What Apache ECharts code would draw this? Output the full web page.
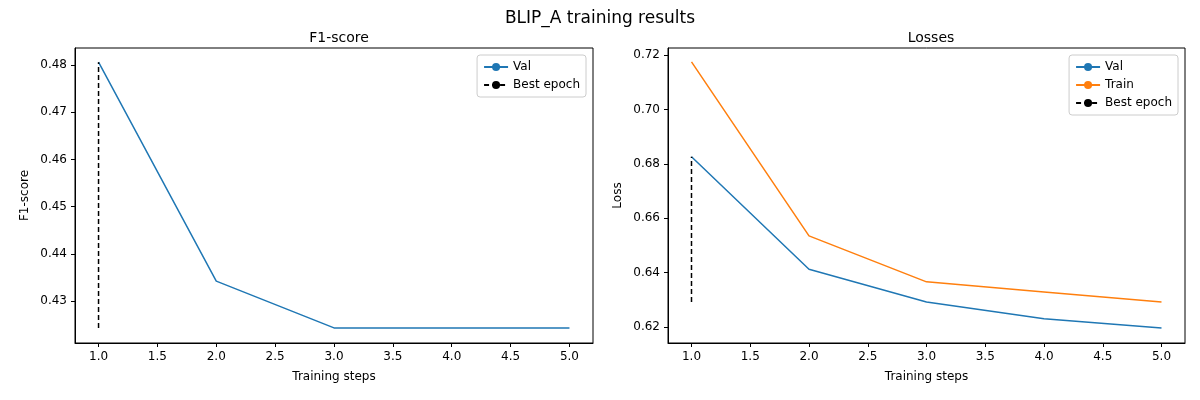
<!DOCTYPE html>
<html>
<head>
<meta charset="utf-8">
<script src="https://cdn.jsdelivr.net/npm/echarts@6/dist/echarts.min.js"></script>
<style>body{margin:0;background:#fff}#charts{width:1200px;height:400px}</style>
</head>
<body>
<div id="charts"></div>
<script>
var steps = [1, 2, 3, 4, 5];
var valF1 = [0.4806, 0.4342, 0.4243, 0.4243, 0.4243];
var valLoss = [0.6826, 0.6412, 0.6292, 0.6230, 0.6196];
var trainLoss = [0.7175, 0.6535, 0.6366, 0.6329, 0.6292];
var xTicks = [1, 1.5, 2, 2.5, 3, 3.5, 4, 4.5, 5];
var f1Ticks = [0.43, 0.44, 0.45, 0.46, 0.47, 0.48];
var lossTicks = [0.62, 0.64, 0.66, 0.68, 0.70, 0.72];
var bestEpoch = 1;

function pairs(vals) { return steps.map(function (s, i) { return [s, vals[i]]; }); }

var myChart = echarts.init(document.getElementById('charts'));
var font = 'DejaVu Sans';
var txt = { color: '#000', fontFamily: font, fontSize: 12 };

function xAxis(idx) {
    return {
        type: 'value', gridIndex: idx, min: 0.8, max: 5.2,
        name: 'Training steps', nameLocation: 'middle', nameGap: 28,
        nameTextStyle: txt,
        axisLine: { lineStyle: { color: '#000' } },
        axisTick: { customValues: xTicks, length: 4, lineStyle: { color: '#000' } },
        axisLabel: Object.assign({ customValues: xTicks, formatter: function (v) { return v.toFixed(1); } }, txt),
        splitLine: { show: false }
    };
}
function yAxis(idx, min, max, ticks, name) {
    return {
        type: 'value', gridIndex: idx, min: min, max: max,
        name: name, nameLocation: 'middle', nameGap: 44,
        nameTextStyle: txt,
        axisLine: { show: true, lineStyle: { color: '#000' } },
        axisTick: { show: true, customValues: ticks, length: 4, lineStyle: { color: '#000' } },
        axisLabel: Object.assign({ customValues: ticks, formatter: function (v) { return v.toFixed(2); } }, txt),
        splitLine: { show: false }
    };
}
var bestStyle = { color: '#000', type: [5, 3], width: 1.5 };

var option = {
    animation: false,
    title: [
        { text: 'BLIP_A training results', left: 'center', top: 5, textStyle: { fontFamily: font, fontSize: 17, fontWeight: 'normal', color: '#000' } },
        { text: 'F1-score', left: 334, top: 26, textAlign: 'center', textStyle: { fontFamily: font, fontSize: 14, fontWeight: 'normal', color: '#000' } },
        { text: 'Losses', left: 926, top: 26, textAlign: 'center', textStyle: { fontFamily: font, fontSize: 14, fontWeight: 'normal', color: '#000' } }
    ],
    grid: [
        { left: 75, top: 48, width: 518, height: 295, show: true, borderColor: '#000', borderWidth: 1 },
        { left: 668, top: 48, width: 517, height: 295, show: true, borderColor: '#000', borderWidth: 1 }
    ],
    legend: [
        { right: 1200 - 586, top: 55, orient: 'vertical', data: ['Val', 'Best epoch'], itemWidth: 24, itemHeight: 10, itemGap: 6,
          textStyle: txt, borderColor: '#ccc', borderWidth: 1, borderRadius: 3, padding: [6, 6] },
        { right: 1200 - 1178, top: 55, orient: 'vertical', data: ['Val ', 'Train', 'Best epoch '], itemWidth: 24, itemHeight: 10, itemGap: 6,
          textStyle: txt, borderColor: '#ccc', borderWidth: 1, borderRadius: 3, padding: [6, 6],
          formatter: function (n) { return n.trim(); } }
    ],
    xAxis: [xAxis(0), xAxis(1)],
    yAxis: [yAxis(0, 0.4211, 0.4836, f1Ticks, 'F1-score'), yAxis(1, 0.6141, 0.7226, lossTicks, 'Loss')],
    series: [
        { name: 'Val', type: 'line', xAxisIndex: 0, yAxisIndex: 0, data: pairs(valF1), symbol: 'none', color: '#1f77b4', lineStyle: { width: 1.5 } },
        { name: 'Best epoch', type: 'line', xAxisIndex: 0, yAxisIndex: 0, symbol: 'none', color: '#000', lineStyle: bestStyle,
          data: [[bestEpoch, Math.min.apply(null, valF1)], [bestEpoch, Math.max.apply(null, valF1)]] },
        { name: 'Val ', type: 'line', xAxisIndex: 1, yAxisIndex: 1, data: pairs(valLoss), symbol: 'none', color: '#1f77b4', lineStyle: { width: 1.5 } },
        { name: 'Train', type: 'line', xAxisIndex: 1, yAxisIndex: 1, data: pairs(trainLoss), symbol: 'none', color: '#ff7f0e', lineStyle: { width: 1.5 } },
        { name: 'Best epoch ', type: 'line', xAxisIndex: 1, yAxisIndex: 1, symbol: 'none', color: '#000', lineStyle: bestStyle,
          data: [[bestEpoch, Math.min.apply(null, valLoss.slice(2, 3))], [bestEpoch, Math.max.apply(null, valLoss)]] }
    ]
};
myChart.setOption(option);
</script>
</body>
</html>
